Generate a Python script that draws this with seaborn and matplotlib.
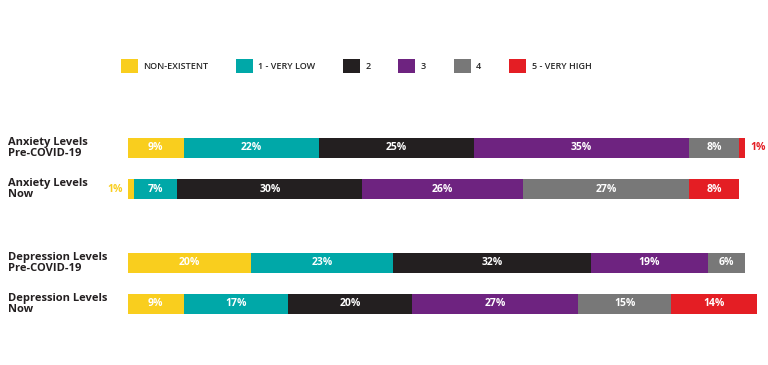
import pandas as pd
import matplotlib.pyplot as plt
import matplotlib.transforms as mtransforms
from matplotlib.patches import Patch
import seaborn as sns

# Data
rows = ['Anxiety Levels\nPre-COVID-19', 'Anxiety Levels\nNow',
        'Depression Levels\nPre-COVID-19', 'Depression Levels\nNow']
levels = ['NON-EXISTENT', '1 - VERY LOW', '2', '3', '4', '5 - VERY HIGH']
non_existent = [9, 1, 20, 9]
very_low = [22, 7, 23, 17]
level_2 = [25, 30, 32, 20]
level_3 = [35, 26, 19, 27]
level_4 = [8, 27, 6, 15]
very_high = [1, 8, 0, 14]

colors = ['#F9CE1E', '#00A8A8', '#231F20', '#6E2380', '#787878', '#E41E24']

sns.set_style('white')
plt.rcParams['font.family'] = ['Open Sans', 'DejaVu Sans']

# Table of values, one column per level
df = pd.DataFrame(dict(zip(levels, [non_existent, very_low, level_2,
                                     level_3, level_4, very_high])))
df['row'] = rows
df['pos'] = [0, 1, 2.8, 3.8]  # vertical layout, extra gap between groups
cum = df[levels].cumsum(axis=1)

fig = plt.figure(figsize=(7.68, 3.65), dpi=100)
px = 6.17  # pixels per percent
ax = fig.add_axes([128 / 768, 0, px * 103 / 768, 1])

# Stacked bars: draw cumulative totals from the last level back to the first
for lvl, col in reversed(list(zip(levels, colors))):
    sns.barplot(x=cum[lvl], y=df['pos'], orient='h', native_scale=True,
                color=col, saturation=1, width=0.49, errorbar=None,
                linewidth=0, ax=ax)

# Percent labels
for i in range(len(df)):
    y = df['pos'][i]
    for j, lvl in enumerate(levels):
        v = df[lvl][i]
        if v == 0:
            continue
        end = cum[lvl][i]
        if v >= 3:
            ax.text(end - v / 2, y, f'{v}%', ha='center', va='center',
                    color='white', fontsize=7.5, fontweight='bold')
        elif j == 0:
            ax.text(-0.8, y, f'{v}%', ha='right', va='center',
                    color=colors[j], fontsize=7.5, fontweight='bold')
        else:
            ax.text(end + 0.8, y, f'{v}%', ha='left', va='center',
                    color=colors[j], fontsize=7.5, fontweight='bold')

# Row labels at the left edge of the figure
trans = mtransforms.blended_transform_factory(fig.transFigure, ax.transData)
for i in range(len(df)):
    ax.text(8 / 768, df['pos'][i], df['row'][i], transform=trans,
            ha='left', va='center', fontsize=8, fontweight='bold',
            linespacing=1.0, color='#231F20')

ax.set_xlim(0, 103)
ax.set_ylim(5.286, -3.605)
ax.axis('off')

# Legend
handles = [Patch(facecolor=c, edgecolor='none', label=l) for l, c in zip(levels, colors)]
fig.legend(handles=handles, loc='center', bbox_to_anchor=(356 / 768, 1 - 66 / 365),
           ncol=6, frameon=False, handlelength=1.9, handleheight=1.9,
           handletextpad=0.6, columnspacing=3.05,
           prop={'weight': 'semibold', 'size': 6.5})

fig.savefig('out.png', dpi=100)
